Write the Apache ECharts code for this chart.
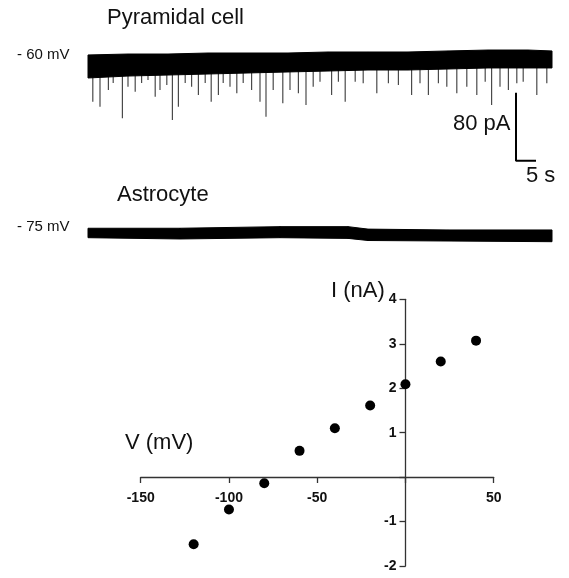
<!DOCTYPE html>
<html>
<head>
<meta charset="utf-8">
<script src="https://cdn.jsdelivr.net/npm/echarts@6/dist/echarts.min.js"></script>
<style>
  html, body { margin: 0; padding: 0; background: #fff; }
  #main { width: 569px; height: 578px; }
</style>
</head>
<body>
<div id="main"></div>
<script>
// I-V points (mV, nA)
var ivVoltage = [-120, -100, -80, -60, -40, -20, 0, 20, 40];
var ivCurrent = [-1.51, -0.73, -0.14, 0.59, 1.10, 1.61, 2.09, 2.60, 3.07];

// pyramidal cell trace: noise band envelope (s, pA)
var pyrBandTime   = [0, 10, 20, 30, 40, 50, 60, 70, 80, 90, 100, 110, 116];
var pyrBandTop    = [2.4, 3.5, 3.5, 4.7, 4.7, 4.7, 5.9, 5.9, 5.9, 7.1, 8.2, 8.2, 7.1];
var pyrBandBottom = [-24.7, -22.4, -21.2, -20, -18.8, -17.6, -16.5, -15.3, -15.3, -14.1, -12.9, -12.9, -12.9];

// spontaneous events: time (s) and peak (pA)
var pyrSpikeTime = [1.2, 3.0, 5.1, 6.3, 8.6, 10.0, 11.8, 13.4, 15.0, 16.8, 18.0, 19.7, 21.1, 22.6,
  24.3, 25.9, 27.6, 29.3, 30.8, 32.6, 33.8, 35.5, 37.2, 38.8, 40.9, 43.0, 44.5, 46.3, 48.7, 50.5,
  52.6, 54.5, 56.3, 58.0, 60.9, 62.6, 64.3, 66.8, 68.8, 72.2, 75.1, 77.6, 80.9, 83.0, 85.1, 87.6,
  89.7, 92.2, 94.7, 97.2, 99.3, 100.9, 103.0, 105.1, 107.2, 108.8, 112.2, 114.7];
var pyrSpikeAmp = [-52.6, -58.5, -38.8, -30.6, -72.1, -34.9, -40.8, -30.6, -27.1, -46.7, -38.8, -32.9, -74.1, -58.5,
  -30.6, -34.9, -44.7, -30.6, -52.6, -44.7, -30.6, -34.9, -42.7, -30.6, -38.8, -52.6, -70.2, -38.8, -54.5, -38.8,
  -42.7, -56.5, -34.9, -29.1, -44.7, -29.1, -52.6, -29.1, -30.9, -42.7, -30.9, -32.9, -44.7, -30.9, -44.7, -30.9,
  -34.9, -42.7, -34.9, -44.7, -29.1, -56.5, -34.9, -38.8, -30.9, -29.1, -44.7, -30.9];

// astrocyte trace envelope (s, pA)
var astBandTime   = [0, 23, 48, 65, 70, 90, 116];
var astBandTop    = [4.4, 4.4, 6.3, 6.3, 3.4, 2.4, 2.4];
var astBandBottom = [-6.7, -8.2, -6.7, -7.5, -10.0, -10.6, -11.4];

// scale bar: corner at (s, pA), lengths 5 s and 80 pA
var scaleCorner = [107, -122];
var scaleTime = 5;
var scaleCurrent = 80;

var FONT = "'Liberation Sans', Arial, sans-serif";

function pairs(xs, ys) {
  return xs.map(function (x, i) { return [x, ys[i]]; });
}
// band segments: [t0, top0, bot0, t1, top1, bot1]
function segments(ts, top, bot) {
  var out = [];
  for (var i = 0; i < ts.length - 1; i++) {
    out.push([ts[i], top[i], bot[i], ts[i + 1], top[i + 1], bot[i + 1]]);
  }
  return out;
}

var bandRender = function (params, api) {
  var a = api.coord([api.value(0), api.value(1)]);
  var b = api.coord([api.value(3), api.value(4)]);
  var c = api.coord([api.value(3), api.value(5)]);
  var d = api.coord([api.value(0), api.value(2)]);
  return {
    type: 'polygon',
    shape: { points: [a, b, c, d] },
    style: { fill: '#000', stroke: '#000', lineWidth: 1 }
  };
};

var spikeRender = function (params, api) {
  var p0 = api.coord([api.value(0), 0]);
  var p1 = api.coord([api.value(0), api.value(1)]);
  return {
    type: 'line',
    shape: { x1: p0[0], y1: p0[1], x2: p1[0], y2: p1[1] },
    style: { stroke: '#4a4a4a', lineWidth: 1.2 }
  };
};

var axisColor = '#333';
var tickLabel = {
  color: '#111', fontFamily: FONT, fontWeight: 'bold', fontSize: 14,
  formatter: function (v) { return v === 0 ? '' : String(v); }
};

var chart = echarts.init(document.getElementById('main'));
chart.setOption({
  animation: false,
  backgroundColor: '#fff',
  grid: [
    { left: 88, top: 40, width: 464, height: 144.5, outerBoundsMode: 'none' },       // pyramidal
    { left: 88, top: 215, width: 464, height: 34, outerBoundsMode: 'none' },         // astrocyte
    { left: 140.7, top: 299.3, width: 353, height: 266.7, outerBoundsMode: 'none' }, // I-V points
    { left: 140.7, top: 299.3, width: 353, height: 177.7, outerBoundsMode: 'none' }, // V axis (bottom = 0 nA)
    { left: 405.5, top: 299.3, width: 88.2, height: 266.7, outerBoundsMode: 'none' } // I axis (left = 0 mV)
  ],
  xAxis: [
    { type: 'value', gridIndex: 0, min: 0, max: 116, show: false },
    { type: 'value', gridIndex: 1, min: 0, max: 116, show: false },
    { type: 'value', gridIndex: 2, min: -150, max: 50, show: false },
    {
      type: 'value', gridIndex: 3, min: -150, max: 50, interval: 50, position: 'bottom',
      axisLine: { onZero: false, lineStyle: { color: axisColor, width: 1.3 } },
      axisTick: { show: true, inside: false, length: 6, lineStyle: { color: axisColor, width: 1.3 } },
      axisLabel: Object.assign({ margin: 14 }, tickLabel),
      splitLine: { show: false }
    },
    { type: 'value', gridIndex: 4, min: 0, max: 50, show: false }
  ],
  yAxis: [
    { type: 'value', gridIndex: 0, min: -150, max: 20, show: false },
    { type: 'value', gridIndex: 1, min: -20, max: 20, show: false },
    { type: 'value', gridIndex: 2, min: -2, max: 4, show: false },
    { type: 'value', gridIndex: 3, min: 0, max: 4, show: false },
    {
      type: 'value', gridIndex: 4, min: -2, max: 4, interval: 1, position: 'left',
      axisLine: { show: true, onZero: false, lineStyle: { color: axisColor, width: 1.3 } },
      axisTick: { show: true, inside: false, length: 6, lineStyle: { color: axisColor, width: 1.3 } },
      axisLabel: Object.assign({ margin: 9 }, tickLabel),
      splitLine: { show: false }
    }
  ],
  series: [
    {
      type: 'custom', xAxisIndex: 0, yAxisIndex: 0, z: 1,
      data: pairs(pyrSpikeTime, pyrSpikeAmp), renderItem: spikeRender
    },
    {
      type: 'custom', xAxisIndex: 0, yAxisIndex: 0, z: 2,
      data: segments(pyrBandTime, pyrBandTop, pyrBandBottom), renderItem: bandRender
    },
    {
      type: 'line', xAxisIndex: 0, yAxisIndex: 0, symbol: 'none',
      data: [
        [scaleCorner[0], scaleCorner[1] + scaleCurrent],
        [scaleCorner[0], scaleCorner[1]],
        [scaleCorner[0] + scaleTime, scaleCorner[1]]
      ],
      lineStyle: { color: '#000', width: 2 }
    },
    {
      type: 'custom', xAxisIndex: 1, yAxisIndex: 1,
      data: segments(astBandTime, astBandTop, astBandBottom), renderItem: bandRender
    },
    {
      type: 'scatter', xAxisIndex: 2, yAxisIndex: 2, symbol: 'circle', symbolSize: 10,
      itemStyle: { color: '#000', opacity: 1 },
      data: pairs(ivVoltage, ivCurrent)
    }
  ],
  graphic: [
    { type: 'text', left: 107, top: 7, style: { text: 'Pyramidal cell', font: '22px ' + FONT, fill: '#111' } },
    { type: 'text', left: 17, top: 47, style: { text: '- 60 mV', font: '15px ' + FONT, fill: '#111' } },
    { type: 'text', left: 117, top: 184, style: { text: 'Astrocyte', font: '22px ' + FONT, fill: '#111' } },
    { type: 'text', left: 17, top: 219, style: { text: '- 75 mV', font: '15px ' + FONT, fill: '#111' } },
    { type: 'text', left: 453, top: 113, style: { text: '80 pA', font: '22px ' + FONT, fill: '#111' } },
    { type: 'text', left: 526, top: 165, style: { text: '5 s', font: '22px ' + FONT, fill: '#111' } },
    { type: 'text', left: 125, top: 432, style: { text: 'V (mV)', font: '22px ' + FONT, fill: '#111' } },
    { type: 'text', left: 331, top: 280, style: { text: 'I (nA)', font: '22px ' + FONT, fill: '#111' } }
  ]
});
</script>
</body>
</html>
